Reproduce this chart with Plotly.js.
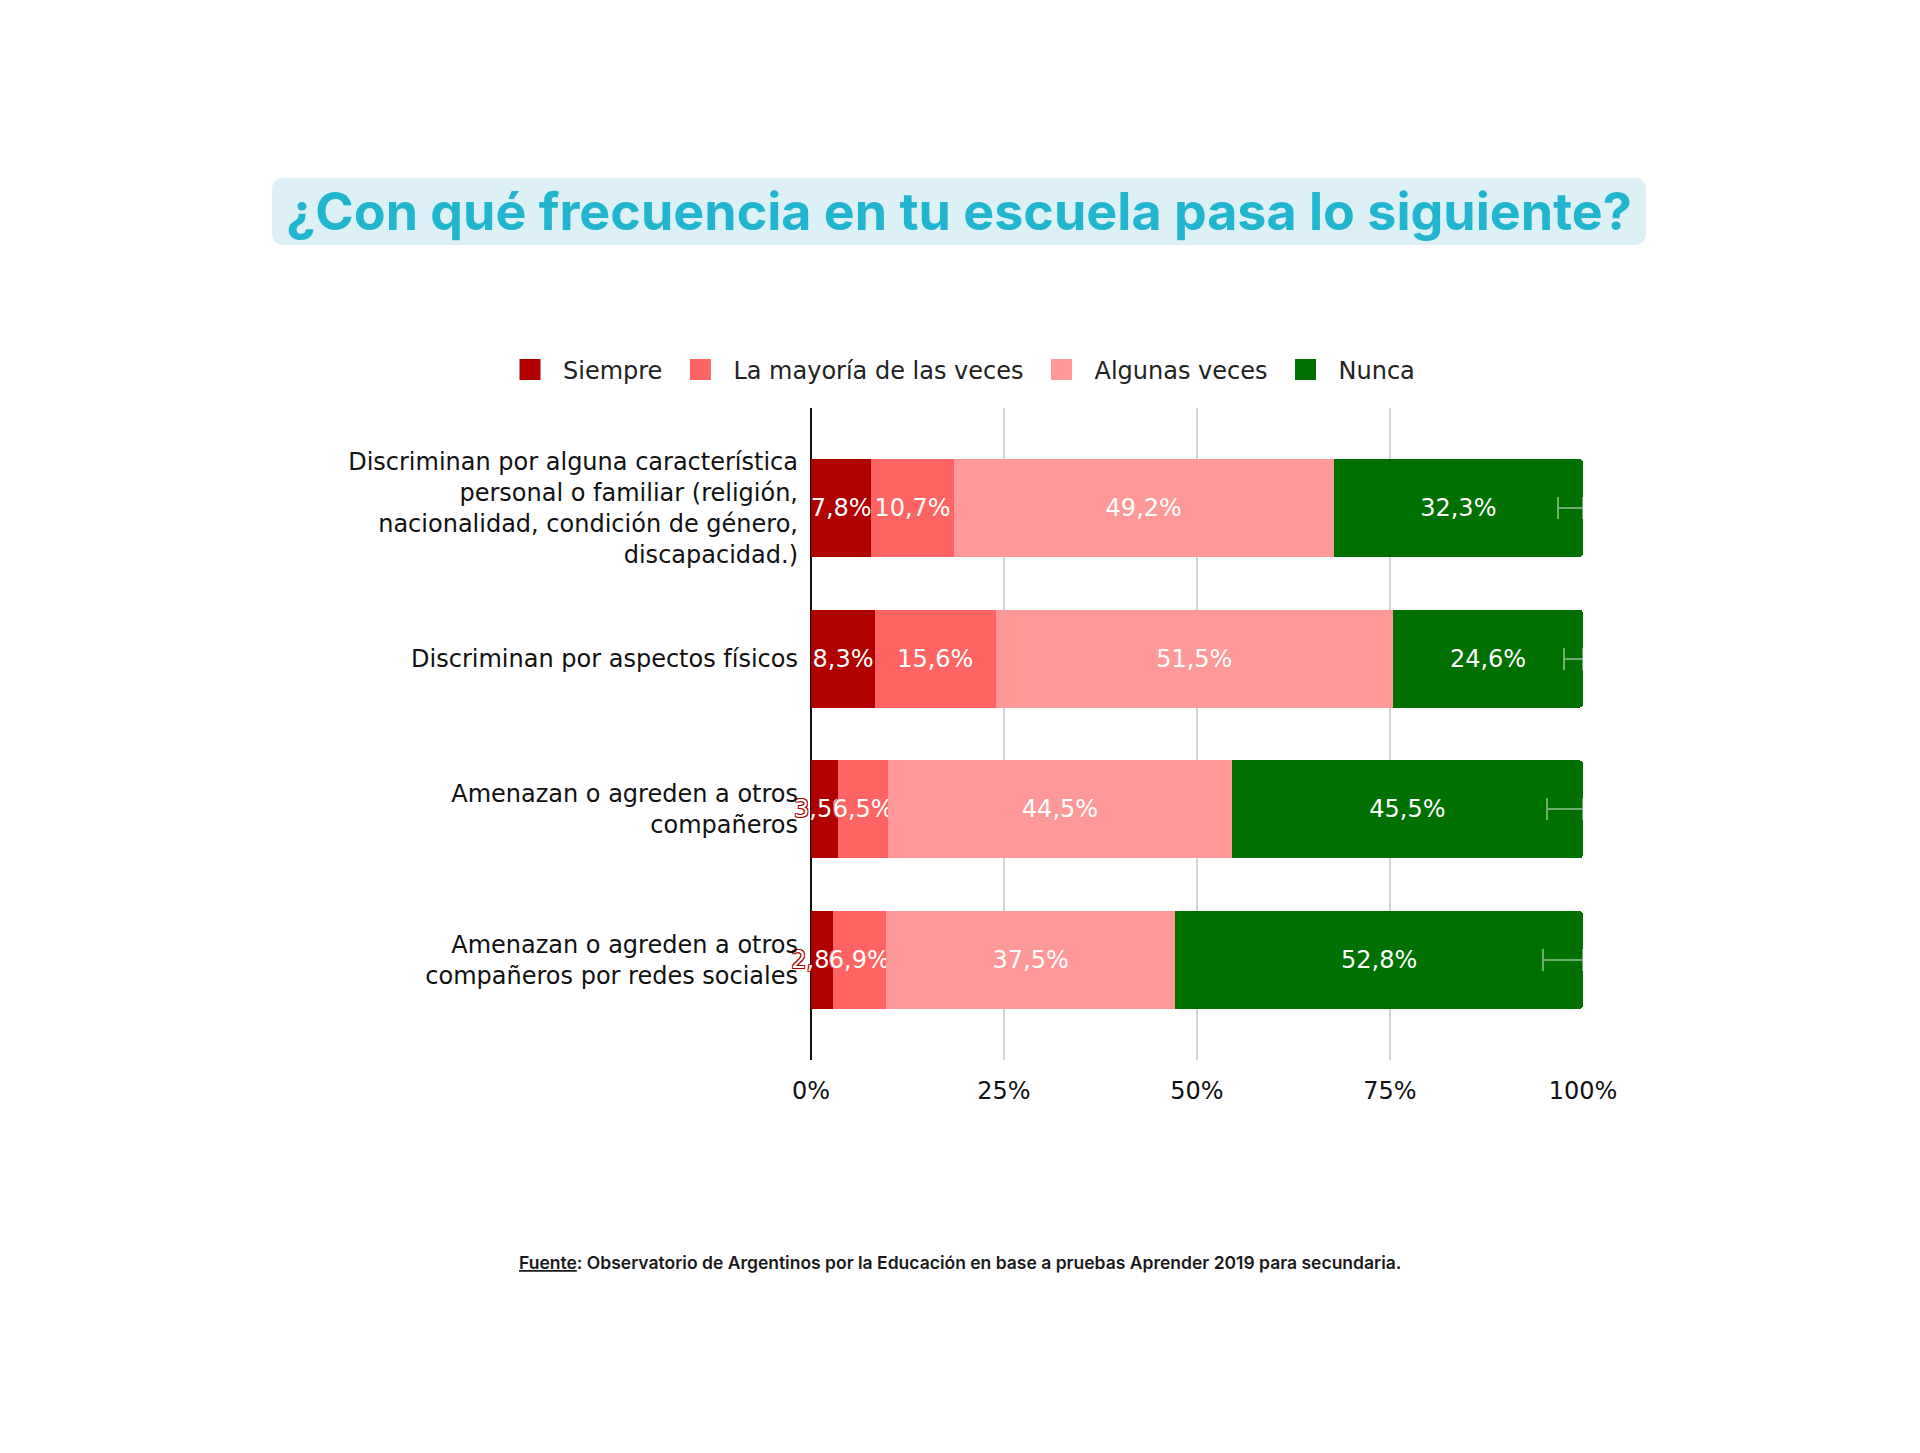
<!DOCTYPE html>
<html>
<head>
<meta charset="utf-8">
<script src="https://cdn.plot.ly/plotly-3.0.1.min.js"></script>
<style>
  html, body { margin: 0; padding: 0; background: #fff; }
  #chart { width: 1920px; height: 1453px; }
</style>
</head>
<body>
<div id="chart"></div>
<script>
// Survey answers (percent of students) per situation
const categories = [
  'Discriminan por alguna característica<br>personal o familiar (religión,<br>nacionalidad, condición de género,<br>discapacidad.)',
  'Discriminan por aspectos físicos',
  'Amenazan o agreden a otros<br>compañeros',
  'Amenazan o agreden a otros<br>compañeros por redes sociales'
];
const seriesNames = ['Siempre', 'La mayoría de las veces', 'Algunas veces', 'Nunca'];
const siempre = [7.8, 8.3, 3.5, 2.8];
const mayoria = [10.7, 15.6, 6.5, 6.9];
const algunas = [49.2, 51.5, 44.5, 37.5];
const nunca = [32.3, 24.6, 45.5, 52.8];
const nuncaError = [3.3, 2.5, 4.6, 5.2];
const xTickVals = [0, 25, 50, 75, 100];

const colors = ['#b00000', '#ff6464', '#ff9898', '#007000'];
const seriesValues = [siempre, mayoria, algunas, nunca];

const fmt = v => v.toFixed(1).replace('.', ',') + '%';
const outline = c => `-1px -1px 0 ${c}, 1px -1px 0 ${c}, -1px 1px 0 ${c}, 1px 1px 0 ${c}`;
const base = 'DejaVu Sans, Verdana, sans-serif';

const traces = seriesValues.map((vals, i) => {
  const t = {
    type: 'bar',
    orientation: 'h',
    name: seriesNames[i],
    y: categories,
    x: vals,
    text: vals.map(fmt),
    textposition: 'inside',
    insidetextanchor: 'middle',
    constraintext: 'none',
    textangle: 0,
    cliponaxis: false,
    textfont: { family: base, size: 24, color: '#ffffff', shadow: outline(colors[i]) },
    marker: { color: colors[i], line: { width: 0 } },
    showlegend: false,
    hoverinfo: 'x+name'
  };
  if (i === 3) {
    t.error_x = {
      type: 'data', symmetric: false,
      array: nuncaError.map(() => 0),
      arrayminus: nuncaError,
      color: 'rgba(200,225,200,0.55)', thickness: 2, width: 11
    };
  }
  return t;
});

// Legend entries with larger square swatches
seriesNames.forEach((n, i) => {
  traces.push({
    type: 'scatter', mode: 'markers', name: n,
    x: [null], y: [null],
    marker: { symbol: 'square', size: 16, color: colors[i], line: { color: colors[i], width: 5 } },
    showlegend: true, hoverinfo: 'skip'
  });
});

// Plot area geometry (pixels)
const L = 811, R = 337, T = 408, B = 393, W = 1920, H = 1453;
const pw = W - L - R, ph = H - T - B;
const px2paper = x => (x - L) / pw;
const py2paper = y => (H - B - y) / ph;

// Rounded header box
const bx = 959, by = 211.5, hw = 687, hh = 33.5, rr = 12;
const boxPath = `M ${-hw + rr} ${-hh} L ${hw - rr} ${-hh} Q ${hw} ${-hh} ${hw} ${-hh + rr} L ${hw} ${hh - rr} Q ${hw} ${hh} ${hw - rr} ${hh} L ${-hw + rr} ${hh} Q ${-hw} ${hh} ${-hw} ${hh - rr} L ${-hw} ${-hh + rr} Q ${-hw} ${-hh} ${-hw + rr} ${-hh} Z`;

const layout = {
  width: W, height: H,
  margin: { l: L, r: R, t: T, b: B, pad: 0 },
  paper_bgcolor: '#ffffff',
  plot_bgcolor: '#ffffff',
  barmode: 'stack',
  bargap: 0.35,
  barcornerradius: 4,
  title: {
    text: '<b>¿Con qué frecuencia en tu escuela pasa lo siguiente?</b>',
    font: { family: 'Inter, sans-serif', size: 52, color: '#22b5cf', weight: 800 },
    xref: 'container', yref: 'container',
    x: bx / W, xanchor: 'center',
    y: 1 - by / H, yanchor: 'middle'
  },
  shapes: [{
    type: 'path', layer: 'below',
    xref: 'paper', yref: 'paper',
    xsizemode: 'pixel', ysizemode: 'pixel',
    xanchor: px2paper(bx), yanchor: py2paper(by),
    path: boxPath,
    fillcolor: '#ddf0f6', line: { width: 0 }
  }],
  legend: {
    orientation: 'h',
    xref: 'paper', yref: 'paper',
    x: px2paper(497), xanchor: 'left',
    y: py2paper(370), yanchor: 'middle',
    itemwidth: 56,
    font: { family: base, size: 24, color: '#222' },
    itemclick: false, itemdoubleclick: false,
    traceorder: 'normal'
  },
  xaxis: {
    range: [0, 100],
    tickvals: xTickVals,
    ticktext: xTickVals.map(v => v + '%'),
    showgrid: true, gridcolor: '#d4d4d4', gridwidth: 2,
    zeroline: true, zerolinecolor: '#111', zerolinewidth: 2,
    showline: false, ticks: '',
    ticklabelstandoff: 14,
    tickfont: { family: base, size: 24, color: '#111' },
    fixedrange: true
  },
  yaxis: {
    type: 'category',
    categoryorder: 'array', categoryarray: categories,
    range: [3.665, -0.665],
    showgrid: false, zeroline: false, showline: false, ticks: '',
    ticklabelstandoff: 12,
    tickfont: { family: base, size: 24, color: '#111' },
    fixedrange: true
  },
  annotations: [{
    xref: 'paper', yref: 'paper',
    x: px2paper(960), y: py2paper(1262),
    xanchor: 'center', yanchor: 'middle',
    showarrow: false,
    text: '<u>Fuente</u>: Observatorio de Argentinos por la Educación en base a pruebas Aprender 2019 para secundaria.',
    font: { family: 'Inter, sans-serif', size: 17.5, color: '#1a1a1a', weight: 600 }
  }],
  hovermode: false
};

Plotly.newPlot('chart', traces, layout, { displayModeBar: false, staticPlot: true });
</script>
</body>
</html>
